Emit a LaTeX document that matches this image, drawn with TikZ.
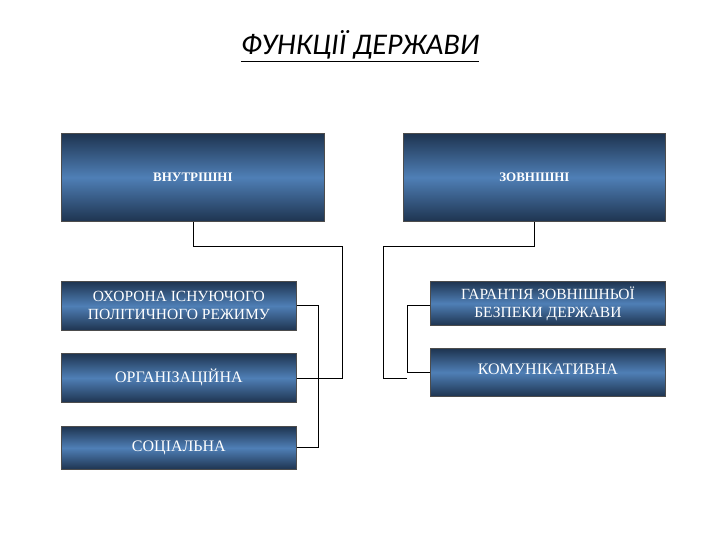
\documentclass[tikz,border=0pt]{standalone}
\usepackage{fontspec}
\setmainfont{Liberation Serif}
\newfontfamily\titlefont{Carlito}
\begin{document}
\begin{tikzpicture}[x=1pt,y=-1pt,
  bx/.style={draw=black!70,line width=0.8pt,top color=navytop,bottom color=navytop,middle color=navymid,text=white,inner sep=0pt,anchor=north west},
  ln/.style={line width=0.8pt,black}]
\definecolor{navytop}{HTML}{1E3450}
\definecolor{navymid}{HTML}{4F7FB6}
\useasboundingbox (0,0) rectangle (720,540);
\node[font=\titlefont\itshape\fontsize{30}{34}\selectfont,anchor=center] (t) at (360,46) {\underline{ФУНКЦІЇ ДЕРЖАВИ}};
\node[bx,minimum width=263,minimum height=88,font=\bfseries\fontsize{13}{15}\selectfont] (v) at (61,133) {ВНУТРІШНІ};
\node[bx,minimum width=262,minimum height=88,font=\bfseries\fontsize{13}{15}\selectfont] (z) at (403,133) {ЗОВНІШНІ};
\node[bx,minimum width=235,minimum height=49,font=\fontsize{15.5}{18}\selectfont,align=center] (a1) at (61,281) {ОХОРОНА ІСНУЮЧОГО\\ПОЛІТИЧНОГО РЕЖИМУ};
\node[bx,minimum width=235,minimum height=49,font=\fontsize{16}{18}\selectfont] (a2) at (61,353) {ОРГАНІЗАЦІЙНА};
\node[bx,minimum width=235,minimum height=43,font=\fontsize{16}{18}\selectfont] (a3) at (61,426) {СОЦІАЛЬНА};
\node[bx,minimum width=235,minimum height=44,font=\fontsize{15.5}{18}\selectfont,align=center] (b1) at (430,281) {ГАРАНТІЯ ЗОВНІШНЬОЇ\\БЕЗПЕКИ ДЕРЖАВИ};
\node[bx,minimum width=235,minimum height=48,font=\fontsize{16}{18}\selectfont] (b2) at (430,348) {\raisebox{6pt}{КОМУНІКАТИВНА}};
\coordinate (lm) at (318,378);
\coordinate (rm) at (407,378);
\draw[ln] (v.south west) ++(132,0) |- (342,246) |- (lm);
\draw[ln] (a1.east |- 0,305) -| (318,447) -- (a3.east |- 0,447);
\draw[ln] (a2.east |- lm) -- (lm);
\draw[ln] (z.south west) ++(131,0) |- (383,246) |- (rm);
\draw[ln] (b1.west |- 0,305) -| (407,372) -- (b2.west |- 0,372);
\end{tikzpicture}
\end{document}
